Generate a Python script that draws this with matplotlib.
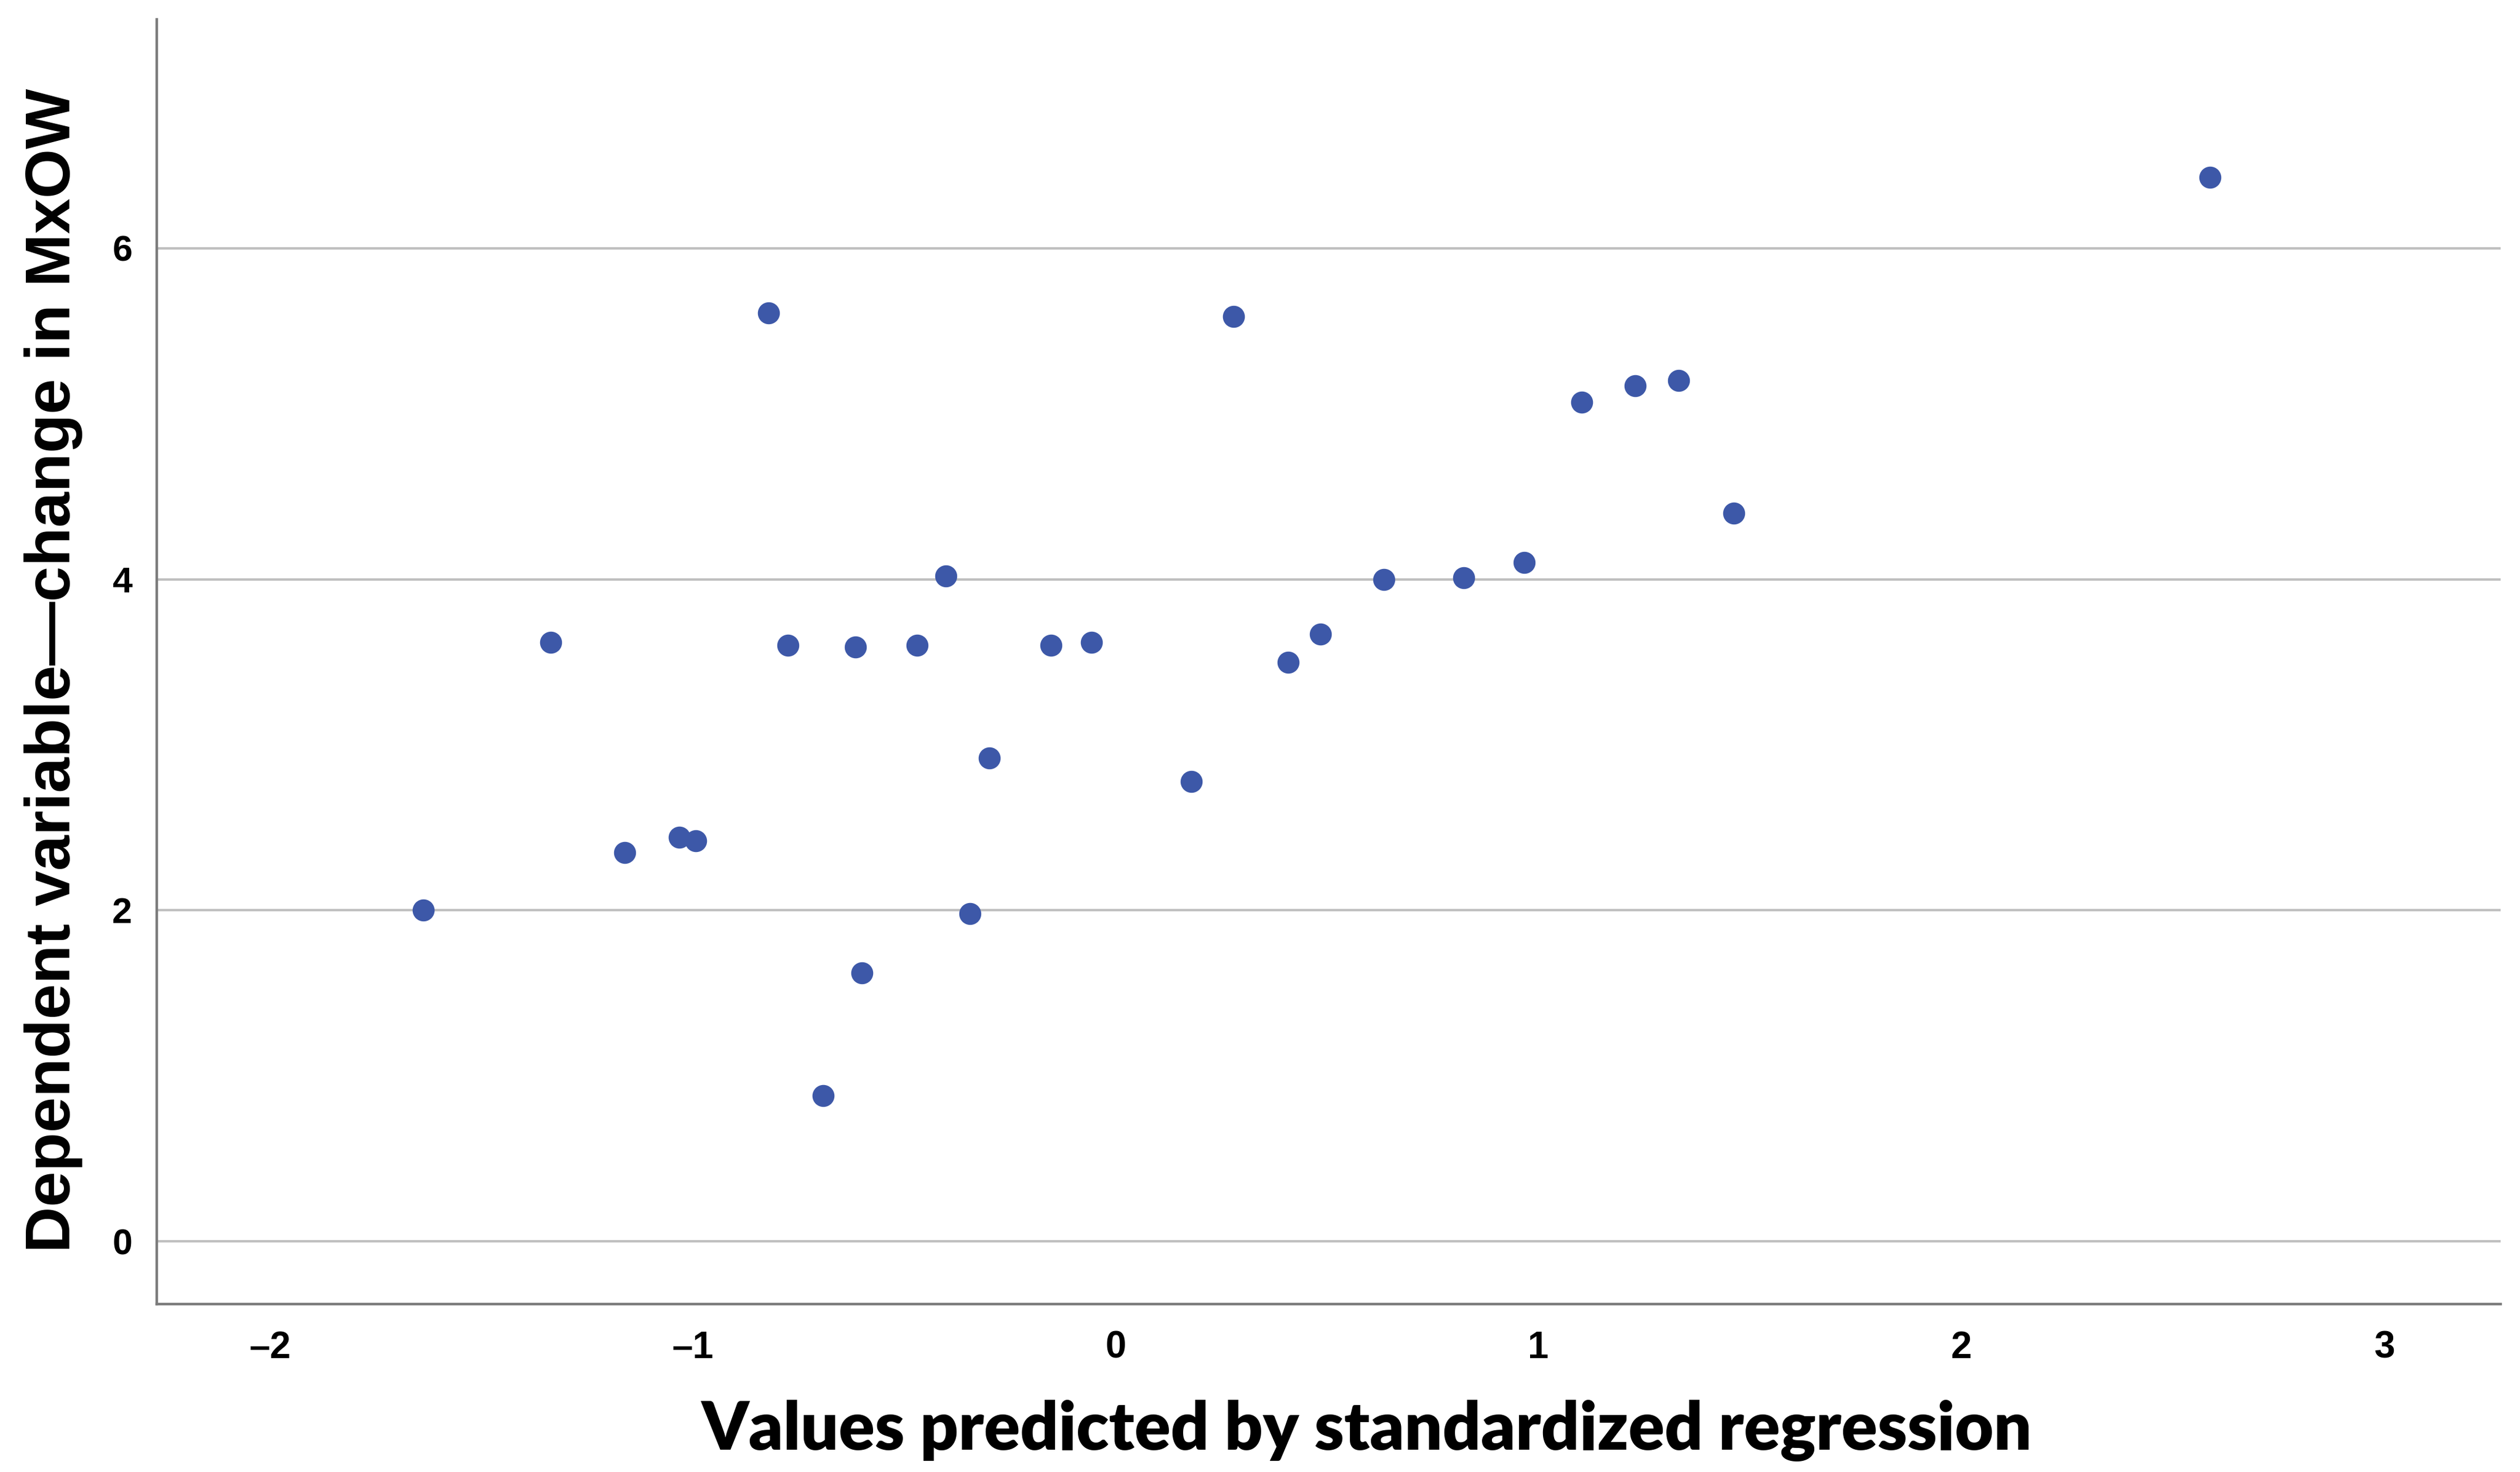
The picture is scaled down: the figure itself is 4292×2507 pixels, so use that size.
from matplotlib import pyplot as plt

# Scatter data
PREDICTED = [-1.637, -1.336, -1.160, -1.031, -0.992, -0.821, -0.775, -0.691,
             -0.615, -0.599, -0.469, -0.401, -0.344, -0.298, -0.153, -0.057,
             0.179, 0.279, 0.408, 0.485, 0.634, 0.824, 0.966, 1.103,
             1.229, 1.332, 1.462, 2.588]
CHANGE_MXOW = [2.00, 3.62, 2.35, 2.44, 2.42, 5.61, 3.60, 0.88,
               3.59, 1.62, 3.60, 4.02, 1.98, 2.92, 3.60, 3.62,
               2.78, 5.59, 3.50, 3.67, 4.00, 4.01, 4.10, 5.07,
               5.17, 5.20, 4.40, 6.43]

X_TICKS = [-2, -1, 0, 1, 2, 3]
Y_TICKS = [0, 2, 4, 6]
X_TICK_LABELS = ['\u20132', '\u20131', '0', '1', '2', '3']
Y_TICK_LABELS = ['0', '2', '4', '6']

XLABEL = 'Values predicted by standardized regression'
YLABEL = 'Dependent variable\u2014change in MxOW'

DOT_COLOR = '#3d58a8'
GRID_COLOR = '#c0c0c0'
SPINE_COLOR = '#7c7c7c'

W, H, DPI = 4292, 2507, 100

fig = plt.figure(figsize = (W / DPI, H / DPI), dpi = DPI)
ax = fig.add_axes([0.0622, 0.114, 0.9301, 0.873])

ax.set_xlim(-2.267, 3.275)
ax.set_ylim(-0.38, 7.385)

ax.set_yticks(Y_TICKS)
ax.set_yticklabels(Y_TICK_LABELS, fontsize = 44, fontweight = 'bold',
                   family = ['Liberation Sans', 'DejaVu Sans'])
ax.set_xticks(X_TICKS)
ax.set_xticklabels(X_TICK_LABELS, fontsize = 46, fontweight = 'bold',
                   family = ['Liberation Sans Narrow', 'Liberation Sans', 'DejaVu Sans'])
ax.tick_params(axis = 'y', length = 0, pad = 30)
ax.tick_params(axis = 'x', length = 0, pad = 32)

for side in ['top', 'right']:
  ax.spines[side].set_visible(False)
for side in ['left', 'bottom']:
  ax.spines[side].set_color(SPINE_COLOR)
  ax.spines[side].set_linewidth(3.2)

ax.grid(True, axis = 'y', color = GRID_COLOR, linewidth = 3)
ax.set_axisbelow(True)

ax.plot(PREDICTED, CHANGE_MXOW, linewidth = 0, marker = 'o', markersize = 26,
        color = DOT_COLOR, zorder = 3)

fig.text(0.5424, 0.028, XLABEL, ha = 'center', va = 'center', fontsize = 82,
         fontweight = 'heavy', family = ['Lato', 'DejaVu Sans'])
fig.text(0.0212, 0.5445, YLABEL, ha = 'center', va = 'center', rotation = 90,
         fontsize = 78, fontweight = 'bold', family = ['Liberation Sans', 'DejaVu Sans'])

fig.savefig('out.png', dpi = DPI, facecolor = 'white')
